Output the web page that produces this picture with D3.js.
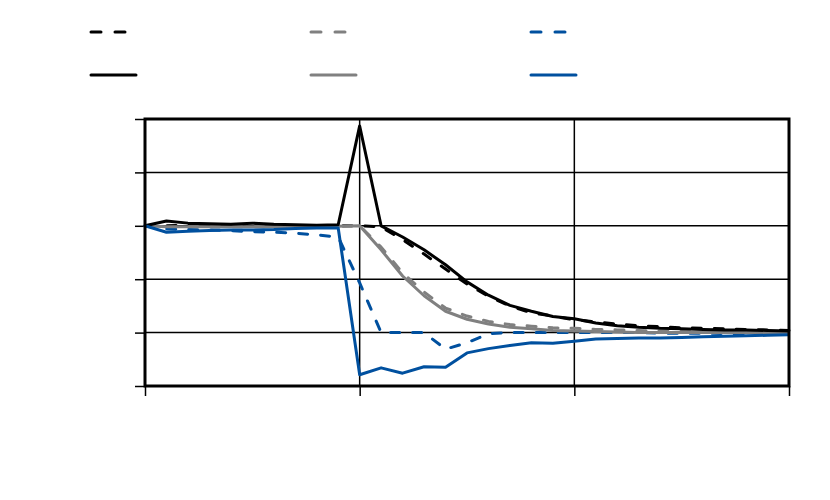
<!DOCTYPE html>
<html>
<head>
<meta charset="utf-8">
<script src="https://cdn.jsdelivr.net/npm/d3@7"></script>
<style>
  body { margin: 0; background: #fff; }
</style>
</head>
<body>
<script>
const steps = d3.range(0, 31);
const xTicks = [0, 10, 20, 30];
const yTicks = [0, 1, 2, 3, 4, 5];

const blackDash = [3.0, 3.0, 3.01, 3.01, 3.0, 3.0, 3.0, 3.0, 3.0, 3.0, 3.0, 2.98, 2.74, 2.47, 2.19, 1.91, 1.68, 1.50, 1.37, 1.31, 1.24, 1.20, 1.16, 1.13, 1.11, 1.09, 1.08, 1.07, 1.06, 1.05, 1.04];
const blackSolid = [3.0, 3.09, 3.05, 3.04, 3.03, 3.05, 3.03, 3.02, 3.01, 3.02, 4.87, 3.0, 2.79, 2.55, 2.27, 1.95, 1.70, 1.51, 1.40, 1.30, 1.26, 1.18, 1.13, 1.10, 1.08, 1.07, 1.06, 1.05, 1.05, 1.04, 1.03];
const grayDash = [3.0, 2.97, 2.98, 2.98, 2.98, 2.98, 2.98, 2.99, 2.99, 2.99, 3.0, 2.60, 2.12, 1.76, 1.46, 1.31, 1.21, 1.15, 1.12, 1.09, 1.08, 1.06, 1.05, 1.04, 1.03, 1.02, 1.01, 1.01, 1.0, 1.0, 1.0];
const graySolid = [3.0, 2.98, 2.98, 2.98, 2.98, 2.98, 2.98, 2.99, 2.99, 2.99, 3.0, 2.55, 2.06, 1.69, 1.40, 1.25, 1.16, 1.10, 1.07, 1.04, 1.03, 1.02, 1.01, 1.0, 1.0, 1.0, 1.0, 1.0, 1.0, 0.99, 0.99];
const blueDash = [3.0, 2.94, 2.93, 2.92, 2.91, 2.89, 2.88, 2.86, 2.83, 2.79, 1.93, 1.0, 1.0, 1.0, 0.69, 0.81, 0.98, 1.0, 1.0, 1.0, 1.0, 1.0, 1.0, 1.0, 0.99, 0.99, 0.99, 0.98, 0.98, 0.98, 0.97];
const blueSolid = [3.0, 2.88, 2.90, 2.91, 2.92, 2.92, 2.93, 2.95, 2.96, 2.96, 0.21, 0.34, 0.24, 0.36, 0.35, 0.62, 0.70, 0.76, 0.81, 0.80, 0.84, 0.88, 0.89, 0.90, 0.90, 0.91, 0.92, 0.93, 0.94, 0.95, 0.96];

const series = [
  { values: blackDash, color: "#000000", dashed: true, col: 0 },
  { values: grayDash, color: "#808080", dashed: true, col: 1 },
  { values: blueDash, color: "#00509f", dashed: true, col: 2 },
  { values: graySolid, color: "#808080", dashed: false, col: 1 },
  { values: blackSolid, color: "#000000", dashed: false, col: 0 },
  { values: blueSolid, color: "#00509f", dashed: false, col: 2 }
];

const w = 830, h = 500;
const plotL = 145, plotR = 789, plotT = 119, plotB = 386;

const svg = d3.select("body").append("svg").attr("width", w).attr("height", h);

const x = d3.scaleLinear().domain([0, 30]).range([plotL, plotR]);
const y = d3.scaleLinear().domain([0, 5]).range([plotB, plotT]);

// gridlines
svg.append("g").selectAll("line")
  .data(yTicks)
  .enter().append("line")
  .attr("x1", plotL).attr("x2", plotR)
  .attr("y1", d => y(d)).attr("y2", d => y(d))
  .attr("stroke", "#000").attr("stroke-width", 1.5);

svg.append("g").selectAll("line")
  .data(xTicks)
  .enter().append("line")
  .attr("x1", d => x(d)).attr("x2", d => x(d))
  .attr("y1", plotT).attr("y2", plotB)
  .attr("stroke", "#000").attr("stroke-width", 1.5);

// axes (ticks only, no labels)
const yAxis = svg.append("g")
  .attr("transform", "translate(" + plotL + ",0)")
  .call(d3.axisLeft(y).tickValues(yTicks).tickFormat("").tickSize(10).tickSizeOuter(0));
const xAxis = svg.append("g")
  .attr("transform", "translate(0," + plotB + ")")
  .call(d3.axisBottom(x).tickValues(xTicks).tickFormat("").tickSize(10).tickSizeOuter(0));
[yAxis, xAxis].forEach(a => {
  a.select(".domain").remove();
  a.selectAll(".tick line").attr("stroke", "#000").attr("stroke-width", 1.5);
});

// lines
const line = d3.line().x((d, i) => x(steps[i])).y(d => y(d));

svg.append("g").selectAll("path")
  .data(series)
  .enter().append("path")
  .attr("d", d => line(d.values))
  .attr("fill", "none")
  .attr("stroke", d => d.color)
  .attr("stroke-width", 3)
  .attr("stroke-linejoin", "round")
  .attr("stroke-linecap", d => d.dashed ? "round" : "butt")
  .attr("stroke-dasharray", d => d.dashed ? "9,13" : null);

// plot border
svg.append("rect")
  .attr("x", plotL).attr("y", plotT)
  .attr("width", plotR - plotL).attr("height", plotB - plotT)
  .attr("fill", "none").attr("stroke", "#000").attr("stroke-width", 3);

// legend (symbols only)
svg.append("g").selectAll("line")
  .data(series)
  .enter().append("line")
  .attr("x1", d => 91 + d.col * 220)
  .attr("x2", d => d.dashed ? 127 + d.col * 220 : 136 + d.col * 220)
  .attr("y1", d => d.dashed ? 32 : 75)
  .attr("y2", d => d.dashed ? 32 : 75)
  .attr("stroke", d => d.color)
  .attr("stroke-width", 3)
  .attr("stroke-linecap", "round")
  .attr("stroke-dasharray", d => d.dashed ? "10,14" : null);
</script>
</body>
</html>
